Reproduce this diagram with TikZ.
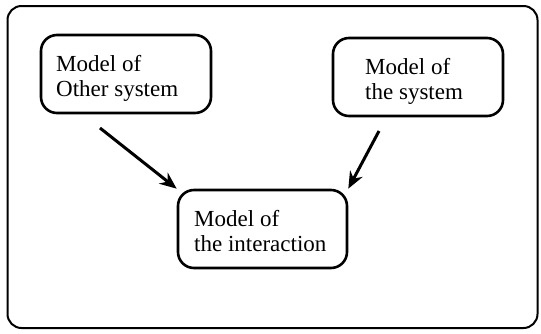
\documentclass[tikz,border=0pt]{standalone}
\usepackage{fontspec}
\setmainfont{Liberation Serif}
\usetikzlibrary{arrows.meta}
\begin{document}
\begin{tikzpicture}[x=1pt,y=-1pt,
  modelbox/.style={draw,line width=2.6pt,rounded corners=16pt},
  label/.style={anchor=base west,inner sep=0pt,font=\fontsize{23}{25}\selectfont},
  flow/.style={line width=3pt,-{Stealth[length=17pt,width=14pt]}}]
\useasboundingbox (0,0) rectangle (541,333);
\node[draw,line width=2pt,rounded corners=14pt,minimum width=530pt,minimum height=322pt] (frame) at (272.5,167) {};
\node[modelbox,minimum width=170pt,minimum height=78pt] (other) at (126,74) {};
\node[modelbox,minimum width=170pt,minimum height=78pt] (sys) at (418,77) {};
\node[modelbox,minimum width=169pt,minimum height=78pt] (inter) at (262.5,229) {};
\node[label] (t1a) at (56,71) {Model of};
\node[label] (t1b) at (56,96) {Other system};
\node[label] (t2a) at (365,74) {Model of};
\node[label] (t2b) at (365,99) {the system};
\node[label] (t3a) at (194,226) {Model of};
\node[label] (t3b) at (194,251) {the interaction};
\coordinate (s1) at (100,128);
\coordinate (s2) at (379,131);
\draw[flow] (s1) -- (inter.north west);
\draw[flow] (s2) -- (inter.north east);
\end{tikzpicture}
\end{document}
